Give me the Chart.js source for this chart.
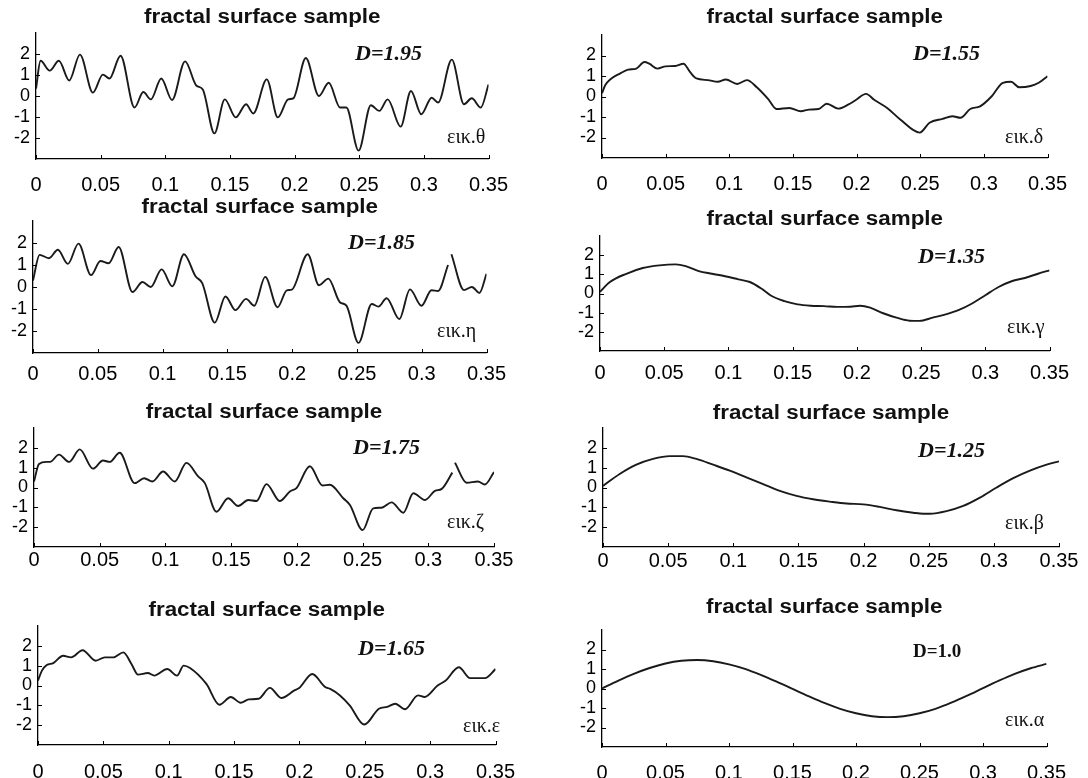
<!DOCTYPE html>
<html>
<head>
<meta charset="utf-8">
<title>fractal surface sample</title>
<script src="https://cdn.jsdelivr.net/npm/chart.js@4.4.1/dist/chart.umd.min.js"></script>
<style>
  html, body { margin: 0; padding: 0; background: #fff; }
  body { width: 1088px; height: 778px; position: relative; overflow: hidden; }
  canvas { position: absolute; }
</style>
</head>
<body>
<script>
// ---- axis ticks and labels ----
const xTicks = [0, 0.05, 0.1, 0.15, 0.2, 0.25, 0.3, 0.35];
const xTickLabels = ['0', '0.05', '0.1', '0.15', '0.2', '0.25', '0.3', '0.35'];
const yTicks = [-2, -1, 0, 1, 2];
const yTickLabels = ['-2', '-1', '0', '1', '2'];

const panelTitles = ['fractal surface sample', 'fractal surface sample', 'fractal surface sample', 'fractal surface sample',
                     'fractal surface sample', 'fractal surface sample', 'fractal surface sample', 'fractal surface sample'];
const dimensionLabels = ['D=1.95', 'D=1.85', 'D=1.75', 'D=1.65', 'D=1.55', 'D=1.35', 'D=1.25', 'D=1.0'];
const figureLabels = ['εικ.θ', 'εικ.η', 'εικ.ζ', 'εικ.ε', 'εικ.δ', 'εικ.γ', 'εικ.β', 'εικ.α'];

// ---- profile samples (position, height) for each fractal dimension ----
const xD195 = [0, 0.0035, 0.0106, 0.0177, 0.0257, 0.034, 0.044, 0.0517, 0.0568, 0.0654, 0.0762, 0.083, 0.0888, 0.0969, 0.1052,
  0.1153, 0.124, 0.129, 0.138, 0.146, 0.1545, 0.1625, 0.168, 0.1785, 0.187, 0.195, 0.199, 0.2087, 0.2188, 0.2264, 0.2352,
  0.240, 0.2495, 0.259, 0.2655, 0.272, 0.282, 0.290, 0.298, 0.306, 0.311, 0.3216, 0.331, 0.337, 0.344, 0.35];
const yD195 = [0.35, 1.68, 1.21, 1.68, 0.74, 1.97, 0.16, 1.02, 0.83, 1.92, -0.55, 0.19, -0.16, 0.83, -0.19,
  1.65, 0.5, 0.31, -1.78, -0.16, -1.02, -0.39, -0.83, 0.79, -1.02, -0.16, -0.11, 1.81, 0.0, 0.63, -0.55,
  -0.55, -2.6, -0.44, -0.71, -0.16, -1.46, 0.24, -0.87, -0.08, -0.31, 1.73, -0.39, -0.11, -0.55, 0.55];

const xD185 = [0, 0.0051, 0.0123, 0.0192, 0.0269, 0.0351, 0.0448, 0.052, 0.0584, 0.0661, 0.0768, 0.0845, 0.0909, 0.0993, 0.1075,
  0.1165, 0.1254, 0.1306, 0.1403, 0.1485, 0.1562, 0.1644, 0.1708, 0.1792, 0.1887, 0.1959, 0.1997, 0.212, 0.2207, 0.2279,
  0.2368, 0.2419, 0.2512, 0.2614, 0.2665, 0.2729, 0.2827, 0.2909, 0.2998, 0.3075, 0.3126, 0.3203, 0.3216, 0.3229, 0.3326,
  0.3387, 0.3445, 0.35];
const yD185 = [0.3, 1.46, 1.31, 1.69, 1.05, 1.97, 0.54, 1.18, 1.08, 1.82, -0.23, 0.23, 0.0, 0.8, 0.03,
  1.49, 0.49, 0.18, -1.62, -0.43, -1.05, -0.54, -0.85, 0.46, -0.92, -0.15, -0.12, 1.49, 0.08, 0.38,
  -0.69, -0.85, -2.54, -0.77, -0.89, -0.51, -1.46, -0.11, -0.85, -0.15, -0.18, 1.0, null, 1.49, -0.14,
  0.0, -0.27, 0.6];

const xD175 = [0, 0.0038, 0.0094, 0.0122, 0.019, 0.0267, 0.0348, 0.0449, 0.0525, 0.0576, 0.0652, 0.0766, 0.0838, 0.0901, 0.0982,
  0.1071, 0.116, 0.1249, 0.13, 0.1388, 0.1477, 0.1553, 0.163, 0.1693, 0.1769, 0.187, 0.1947, 0.1997, 0.2099, 0.2195,
  0.2251, 0.2353, 0.2404, 0.25, 0.2581, 0.2645, 0.2721, 0.281, 0.2886, 0.2975, 0.3051, 0.3102, 0.3183, 0.3193, 0.3203,
  0.3292, 0.3378, 0.343, 0.35];
const yD175 = [0.3, 1.19, 1.29, 1.29, 1.66, 1.29, 1.92, 0.95, 1.36, 1.29, 1.75, 0.22, 0.47, 0.3, 0.81,
  0.3, 1.24, 0.56, 0.22, -1.22, -0.54, -0.93, -0.63, -0.68, 0.17, -0.68, -0.2, -0.03, 1.07, 0.1,
  0.14, -0.54, -0.88, -2.15, -1.05, -1.02, -0.75, -1.27, -0.29, -0.63, -0.17, -0.07, 0.75, null, 1.25,
  0.24, 0.3, 0.15, 0.78];

const xD165 = [0, 0.003, 0.0067, 0.0117, 0.0192, 0.0254, 0.0341, 0.0441, 0.0511, 0.0578, 0.0653, 0.0715, 0.0765, 0.084, 0.0889,
  0.0989, 0.1064, 0.1114, 0.1163, 0.1288, 0.1388, 0.1475, 0.155, 0.1612, 0.1687, 0.1774, 0.1861, 0.1961, 0.1998, 0.2098,
  0.2197, 0.2235, 0.231, 0.2384, 0.2496, 0.2608, 0.2671, 0.2733, 0.2808, 0.2907, 0.2957, 0.3057, 0.3119, 0.3219, 0.3306,
  0.3418, 0.35];
const yD165 = [0.25, 0.75, 1.03, 1.13, 1.5, 1.42, 1.78, 1.25, 1.42, 1.42, 1.67, 1.08, 0.55, 0.63, 0.5,
  0.83, 0.5, 1.0, 0.88, 0.08, -0.97, -0.58, -0.87, -0.7, -0.67, -0.12, -0.63, -0.25, -0.13, 0.58,
  -0.08, -0.17, -0.5, -1.0, -1.97, -1.17, -1.08, -0.92, -1.2, -0.5, -0.58, 0.0, 0.25, 0.92, 0.37,
  0.37, 0.83];

const xD155 = [0, 0.0026, 0.0064, 0.0141, 0.0205, 0.0269, 0.0333, 0.0371, 0.0435, 0.0499, 0.0576, 0.064, 0.0691, 0.0742, 0.0832,
  0.0909, 0.0973, 0.1062, 0.1139, 0.1216, 0.1306, 0.137, 0.1472, 0.1562, 0.1626, 0.1702, 0.1766, 0.1856, 0.1933, 0.1997,
  0.2074, 0.2138, 0.224, 0.2343, 0.2496, 0.2573, 0.2675, 0.2752, 0.2816, 0.2893, 0.297, 0.306, 0.3149, 0.3213, 0.3277,
  0.3367, 0.3431, 0.35];
const yD155 = [0.16, 0.56, 0.83, 1.12, 1.31, 1.36, 1.68, 1.6, 1.36, 1.47, 1.49, 1.6, 1.2, 0.88, 0.8,
  0.72, 0.83, 0.61, 0.8, 0.45, -0.13, -0.61, -0.56, -0.72, -0.64, -0.61, -0.35, -0.59, -0.4, -0.16,
  0.13, -0.16, -0.56, -1.12, -1.76, -1.28, -1.09, -0.96, -1.04, -0.61, -0.48, 0.0, 0.67, 0.72, 0.45,
  0.51, 0.67, 0.99];

const xD135 = [0, 0.0077, 0.0205, 0.0333, 0.0462, 0.059, 0.0667, 0.0769, 0.0872, 0.0974, 0.1077, 0.1167, 0.1256, 0.1333, 0.1436,
  0.1538, 0.1641, 0.1744, 0.1846, 0.1949, 0.2026, 0.2103, 0.2205, 0.2308, 0.241, 0.2487, 0.259, 0.2692, 0.2795, 0.2897,
  0.3, 0.3103, 0.3205, 0.3308, 0.341, 0.35];
const yD135 = [0.09, 0.6, 1.03, 1.33, 1.47, 1.52, 1.43, 1.17, 1.03, 0.9, 0.74, 0.6, 0.26, -0.12, -0.4,
  -0.57, -0.64, -0.66, -0.7, -0.69, -0.64, -0.74, -1.03, -1.26, -1.42, -1.43, -1.26, -1.09, -0.86, -0.52,
  -0.09, 0.34, 0.64, 0.81, 1.03, 1.21];

const xD125 = [0, 0.0128, 0.0256, 0.0384, 0.0512, 0.0614, 0.0717, 0.0845, 0.0973, 0.1101, 0.1229, 0.1357, 0.1485, 0.1613, 0.1741,
  0.1869, 0.1997, 0.2125, 0.2253, 0.2381, 0.2458, 0.2509, 0.2637, 0.2765, 0.2893, 0.3021, 0.3149, 0.3277, 0.3405, 0.35];
const yD125 = [0.08, 0.68, 1.15, 1.44, 1.58, 1.58, 1.44, 1.15, 0.85, 0.51, 0.17, -0.17, -0.42, -0.59, -0.71,
  -0.81, -0.85, -0.98, -1.15, -1.27, -1.32, -1.32, -1.19, -0.93, -0.51, 0.0, 0.47, 0.85, 1.15, 1.32];

const xD100 = [0, 0.0125, 0.025, 0.0375, 0.05, 0.0625, 0.075, 0.0875, 0.1, 0.1125, 0.125, 0.1375, 0.15, 0.1625, 0.175,
  0.1875, 0.2, 0.2125, 0.225, 0.2375, 0.25, 0.2625, 0.275, 0.2875, 0.3, 0.3125, 0.325, 0.3375, 0.35];
const yD100 = [0.0, 0.39, 0.75, 1.05, 1.28, 1.42, 1.46, 1.40, 1.24, 1.01, 0.70, 0.35, -0.02, -0.39, -0.74,
  -1.04, -1.27, -1.42, -1.47, -1.42, -1.27, -1.04, -0.73, -0.37, 0.02, 0.40, 0.75, 1.04, 1.26];

const seriesX = [xD195, xD185, xD175, xD165, xD155, xD135, xD125, xD100];
const seriesY = [yD195, yD185, yD175, yD165, yD155, yD135, yD125, yD100];

// ---- page layout of each panel (plot box in page pixels, text anchors) ----
const panelLayout = [
  { left: 36,  right: 498,  top: 33,  bottom: 159, titleY: 17,  dX: 355, dY: 54,  eX: 447,  eY: 138, xPad: 14 },
  { left: 33,  right: 491,  top: 221, bottom: 353, titleY: 207, dX: 348, dY: 243, eX: 437,  eY: 332, xPad: 9 },
  { left: 34,  right: 494,  top: 428, bottom: 547, titleY: 412, dX: 353, dY: 448, eX: 447,  eY: 523, xPad: 1 },
  { left: 38,  right: 506,  top: 626, bottom: 745, titleY: 610, dX: 358, dY: 649, eX: 463,  eY: 727, xPad: 15 },
  { left: 602, right: 1057, top: 35,  bottom: 158, titleY: 17,  dX: 913, dY: 54,  eX: 1005, eY: 138, xPad: 14 },
  { left: 600, right: 1055, top: 236, bottom: 351, titleY: 219, dX: 918, dY: 257, eX: 1007, eY: 328, xPad: 10 },
  { left: 603, right: 1059, top: 428, bottom: 547, titleY: 413, dX: 918, dY: 451, eX: 1005, eY: 524, xPad: 2 },
  { left: 602, right: 1056, top: 630, bottom: 747, titleY: 607, dX: 913, dY: 652, eX: 1005, eY: 721, xPad: 14 }
];

const Y_AXIS_W = 40, TOP_PAD = 40, RIGHT_PAD = 24, X_AXIS_H = 40;
const X_TICK_FONT = { family: "'Liberation Sans', Arial, sans-serif", size: 20 };
const Y_TICK_FONT = { family: "'Liberation Sans', Arial, sans-serif", size: 18 };

function makePanel(i) {
  const L = panelLayout[i];
  const cx = L.left - Y_AXIS_W, cy = L.top - TOP_PAD;
  const w = (L.right - L.left) + Y_AXIS_W + RIGHT_PAD;
  const h = (L.bottom - L.top) + TOP_PAD + X_AXIS_H;
  const canvas = document.createElement('canvas');
  canvas.width = w; canvas.height = h;
  canvas.style.left = cx + 'px'; canvas.style.top = cy + 'px';
  canvas.style.width = w + 'px'; canvas.style.height = h + 'px';
  document.body.appendChild(canvas);

  const xs = seriesX[i], ys = seriesY[i];
  const points = xs.map((x, k) => ({ x: x, y: ys[k] }));

  // inward tick marks, panel title, dimension tag and figure tag
  const decor = {
    id: 'panelDecor' + i,
    afterDraw(chart) {
      const ctx = chart.ctx, a = chart.chartArea;
      const sx = chart.scales.x, sy = chart.scales.y;
      ctx.save();
      ctx.strokeStyle = '#000';
      ctx.lineWidth = 1;
      ctx.beginPath();
      xTicks.forEach(v => {
        const px = Math.round(sx.getPixelForValue(v)) + 0.5;
        ctx.moveTo(px, a.bottom); ctx.lineTo(px, a.bottom - 4);
      });
      yTicks.forEach(v => {
        const py = Math.round(sy.getPixelForValue(v)) + 0.5;
        ctx.moveTo(a.left, py); ctx.lineTo(a.left + 4, py);
      });
      ctx.stroke();

      ctx.fillStyle = '#111';
      ctx.textBaseline = 'middle';
      // title
      ctx.save();
      ctx.translate((a.left + a.right) / 2, L.titleY - cy);
      ctx.scale(1.12, 1);
      ctx.textAlign = 'center';
      ctx.font = "bold 20px 'Liberation Sans', Arial, sans-serif";
      ctx.fillText(panelTitles[i], 0, 0);
      ctx.restore();
      // dimension tag
      ctx.textAlign = 'left';
      ctx.font = (i === 7 ? 'bold 19px' : 'italic bold 22px') + " 'Liberation Serif', 'Times New Roman', serif";
      ctx.fillText(dimensionLabels[i], L.dX - cx, L.dY - cy);
      // figure tag
      ctx.font = "20px 'Liberation Serif', 'Times New Roman', serif";
      ctx.fillText(figureLabels[i], L.eX - cx, L.eY - cy);
      ctx.restore();
    }
  };

  new Chart(canvas, {
    type: 'line',
    data: {
      datasets: [{
        data: points,
        borderColor: '#1a1a1a',
        borderWidth: 1.9,
        pointRadius: 0,
        fill: false,
        spanGaps: false,
        cubicInterpolationMode: 'monotone'
      }]
    },
    options: {
      responsive: false,
      animation: false,
      devicePixelRatio: 1,
      layout: { padding: { top: TOP_PAD, right: RIGHT_PAD, left: 0, bottom: 0 } },
      plugins: { legend: { display: false }, tooltip: { enabled: false }, title: { display: false } },
      scales: {
        x: {
          type: 'linear', min: 0, max: 0.35,
          afterBuildTicks: s => { s.ticks = xTicks.map(v => ({ value: v })); },
          afterFit: s => { s.height = X_AXIS_H; },
          ticks: {
            callback: (v, k) => xTickLabels[k],
            font: X_TICK_FONT, color: '#000', padding: L.xPad,
            maxRotation: 0, minRotation: 0, autoSkip: false
          },
          grid: { display: false, drawTicks: false },
          border: { display: true, color: '#000', width: 1.3 }
        },
        y: {
          type: 'linear', min: -3, max: 3,
          afterBuildTicks: s => { s.ticks = yTicks.map(v => ({ value: v })); },
          afterFit: s => { s.width = Y_AXIS_W; },
          ticks: {
            callback: (v, k) => yTickLabels[k],
            font: Y_TICK_FONT, color: '#000', padding: 6
          },
          grid: { display: false, drawTicks: false },
          border: { display: true, color: '#000', width: 1.3 }
        }
      }
    },
    plugins: [decor]
  });
}

for (let i = 0; i < panelLayout.length; i++) makePanel(i);
</script>
</body>
</html>
